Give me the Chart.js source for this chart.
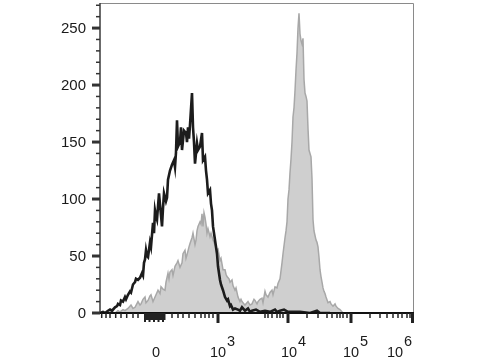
<!DOCTYPE html>
<html>
<head>
  <meta charset="UTF-8" />
  <title>Histogram</title>
  <script src="https://cdn.jsdelivr.net/npm/chart.js"></script>
  <style>
    body { margin: 0; background: #ffffff; }
    canvas { display: block; }
  </style>
</head>
<body>
<canvas id="histo" width="480" height="360"></canvas>
<script>
  // positions on the display scale (0 .. 313), counts on y
  const blackX = [0,3,5,8,10,12,15,17,18,20,21,23,25,26,28,30,31,33,35,36,38,40,42,43,44,45,46,47,48,50,51,53,54,55,56,57,59,60,62,63,64,66,67,68,70,72,74,75,76,77,78,80,81,82,84,86,87,88,89,90,92,93,94,95,97,98,100,101,102,103,105,106,107,108,110,111,112,113,115,117,118,120,121,123,125,127,128,130,131,133,135,138,140,142,145,148,150,152,156,160,165,170,175,177,180,184,188,190,200,210,217,220,230];
  const blackY = [0,1,0,2,3,2,5,6,8,7,11,10,14,12,16,19,18,25,27,30,29,31,35,33,44,47,55,50,49,62,58,79,70,90,85,82,105,95,76,92,105,98,101,117,125,130,134,128,141,169,146,150,163,143,160,158,150,163,153,165,193,163,150,131,149,143,146,152,158,134,137,125,117,105,108,96,90,76,64,52,41,29,25,20,14,11,12,6,7,3,4,3,2,5,2,4,1,2,3,1,2,1,3,1,2,3,1,1,1,0,2,0,0];

  const greyX = [8,12,15,18,20,23,25,28,31,33,35,38,40,41,43,45,46,48,50,51,53,55,57,58,60,61,63,65,66,68,69,70,72,73,75,77,78,80,82,83,85,86,87,89,90,92,93,95,96,97,98,100,101,102,103,104,105,106,107,108,110,111,113,115,117,118,120,121,123,125,126,127,129,130,132,133,135,136,138,140,141,142,144,145,147,148,150,152,154,155,157,158,160,162,163,165,166,168,170,172,173,175,177,178,180,182,183,185,186,187,188,189,190,191,192,193,194,195,196,197,198,199,200,201,202,203,204,205,206,207,208,209,210,211,212,213,214,215,216,217,218,219,220,221,222,223,224,225,226,228,230,231,233,235,236,238,240,241,243];
  const greyY = [0,1,0,2,1,3,2,4,7,4,5,10,7,8,12,14,9,11,15,16,10,14,18,20,17,23,21,20,27,35,30,36,38,33,41,44,46,40,44,52,55,48,51,58,61,66,70,60,64,72,76,80,78,87,76,88,84,78,70,74,67,70,64,60,55,56,46,48,38,38,34,32,30,27,29,24,20,22,14,10,12,10,8,7,9,10,7,8,12,11,8,10,12,13,9,19,16,14,18,20,16,23,22,26,30,44,52,66,72,80,100,108,123,135,150,172,180,195,213,228,250,263,245,239,236,241,205,193,190,186,162,143,140,137,118,82,72,68,64,62,58,49,38,32,27,22,19,17,14,9,10,8,6,8,6,4,3,2,0];

  const yMajor = [0, 50, 100, 150, 200, 250];
  const yMinor = [10,20,30,40,60,70,80,90,110,120,130,140,160,170,180,190,210,220,230,240,260,270];

  const xMajor = [118, 188, 251, 313];
  const xMinor = [1.7,6,10,15.7,21,26.7,33,38,
    72,78,83,89,95,101,105,109,113,
    165,168,172,177,180,183,
    207,218,227,232,237,240,243,247,
    270,280,287,293,298,302,307,310];
  // dense ticks of the linear zone around zero
  const xDense = [45,46.5,48,49.5,51,52.5,54,55.5,57,58.5,60,61.5,63,64.5];

  const xLabelPos = [56, 118, 189, 251, 295];
  const xLabelBase = ['0', '10', '10', '10', '10'];
  const xLabelExp = ['', '3', '4', '5', '6'];

  const pairs = (xs, ys) => xs.map((x, i) => ({ x: x, y: ys[i] }));

  // axes, ticks and labels drawn on top, from the chart's own scales
  const axesPlugin = {
    id: 'axesPlugin',
    afterDraw(chart) {
      const ctx = chart.ctx;
      const xs = chart.scales.x, ys = chart.scales.y;
      const a = chart.chartArea;
      ctx.save();

      // frame (top / right)
      ctx.strokeStyle = '#8a8a8a';
      ctx.lineWidth = 1;
      ctx.beginPath();
      ctx.moveTo(a.left, a.top + 0.5);
      ctx.lineTo(a.right + 0.5, a.top + 0.5);
      ctx.lineTo(a.right + 0.5, a.bottom);
      ctx.stroke();

      // left axis
      ctx.strokeStyle = '#3a3a3a';
      ctx.lineWidth = 1.5;
      ctx.beginPath();
      ctx.moveTo(a.left, a.top);
      ctx.lineTo(a.left, a.bottom);
      ctx.stroke();

      // bottom axis
      ctx.strokeStyle = '#111';
      ctx.lineWidth = 2;
      ctx.beginPath();
      ctx.moveTo(a.left - 8, a.bottom);
      ctx.lineTo(a.right + 1, a.bottom);
      ctx.stroke();

      // y ticks
      ctx.strokeStyle = '#333';
      ctx.lineWidth = 1.5;
      yMinor.forEach(v => {
        const y = ys.getPixelForValue(v);
        ctx.beginPath(); ctx.moveTo(a.left - 4, y); ctx.lineTo(a.left, y); ctx.stroke();
      });
      ctx.lineWidth = 3;
      yMajor.forEach(v => {
        const y = ys.getPixelForValue(v);
        ctx.beginPath(); ctx.moveTo(a.left - 8, y); ctx.lineTo(a.left, y); ctx.stroke();
      });

      // x ticks
      ctx.strokeStyle = '#222';
      ctx.lineWidth = 1.5;
      xMinor.forEach(v => {
        const x = xs.getPixelForValue(v);
        ctx.beginPath(); ctx.moveTo(x, a.bottom); ctx.lineTo(x, a.bottom + 5); ctx.stroke();
      });
      ctx.lineWidth = 2;
      xDense.forEach((v, i) => {
        const x = xs.getPixelForValue(v);
        ctx.beginPath(); ctx.moveTo(x, a.bottom); ctx.lineTo(x, a.bottom + (i % 3 === 0 ? 9 : 7)); ctx.stroke();
      });
      ctx.lineWidth = 3;
      xMajor.forEach(v => {
        const x = Math.min(xs.getPixelForValue(v), a.right - 0.5);
        ctx.beginPath(); ctx.moveTo(x, a.bottom); ctx.lineTo(x, a.bottom + 10); ctx.stroke();
      });

      // y labels
      ctx.fillStyle = '#1a1a1a';
      ctx.font = '15px "Liberation Sans", Arial, sans-serif';
      ctx.textAlign = 'right';
      ctx.textBaseline = 'middle';
      yMajor.forEach(v => {
        ctx.fillText(String(v), a.left - 14, ys.getPixelForValue(v) + 1);
      });

      // x labels with exponents
      ctx.font = '14.5px "Liberation Sans", Arial, sans-serif';
      ctx.textBaseline = 'alphabetic';
      xLabelPos.forEach((p, i) => {
        const x = xs.getPixelForValue(p);
        const base = xLabelBase[i];
        const w = ctx.measureText(base).width;
        ctx.textAlign = 'left';
        ctx.fillText(base, x - w / 2, a.bottom + 44);
        if (xLabelExp[i]) ctx.fillText(xLabelExp[i], x + w / 2 + 1, a.bottom + 33);
      });

      ctx.restore();
    }
  };

  new Chart(document.getElementById('histo'), {
    type: 'line',
    data: {
      datasets: [
        {
          label: 'control',
          data: pairs(blackX, blackY),
          borderColor: '#1c1c1c',
          borderWidth: 2.6,
          fill: false,
          pointRadius: 0,
          tension: 0,
          order: 0
        },
        {
          label: 'stained',
          data: pairs(greyX, greyY),
          borderColor: '#a8a8a8',
          backgroundColor: '#cfcfcf',
          borderWidth: 1.5,
          fill: 'origin',
          pointRadius: 0,
          tension: 0,
          order: 1
        }
      ]
    },
    options: {
      responsive: false,
      animation: false,
      layout: { padding: { left: 100, right: 67, top: 3, bottom: 47 } },
      plugins: { legend: { display: false }, tooltip: { enabled: false } },
      scales: {
        x: { type: 'linear', min: 0, max: 313, display: false },
        y: { min: 0, max: 272, display: false }
      }
    },
    plugins: [axesPlugin]
  });
</script>
</body>
</html>
